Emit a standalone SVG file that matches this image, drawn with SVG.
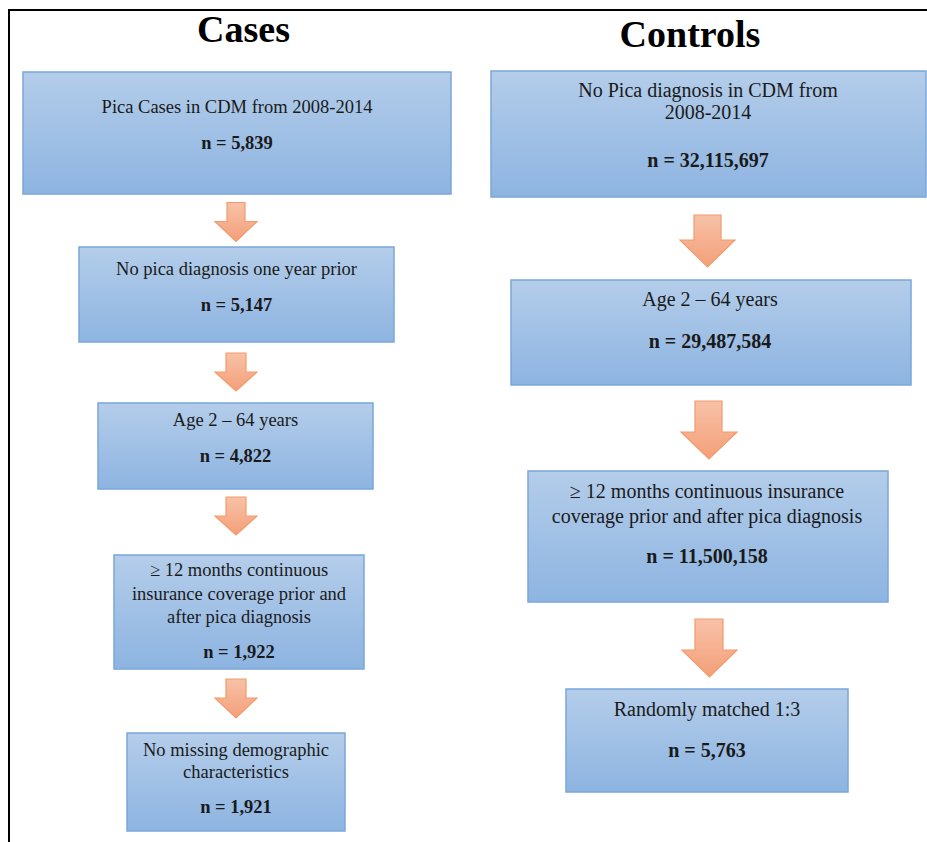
<svg xmlns="http://www.w3.org/2000/svg" width="927" height="842" viewBox="0 0 927 842">
<defs>
<linearGradient id="boxg" x1="0" y1="0" x2="0" y2="1">
<stop offset="0" stop-color="#b4cdea"/>
<stop offset="1" stop-color="#8db4e1"/>
</linearGradient>
<linearGradient id="arrg" x1="0" y1="0" x2="0" y2="1">
<stop offset="0" stop-color="#f7c2a8"/>
<stop offset="1" stop-color="#f49f78"/>
</linearGradient>
<style>
.box{fill:url(#boxg);stroke:#7ba7d9;stroke-width:1.5}
.arr{fill:url(#arrg);stroke:#f39a6b;stroke-width:1.2;stroke-linejoin:miter}
.t{font-family:"Liberation Serif","Times New Roman",serif;fill:#1a1a1a;text-anchor:middle}
.c{font-size:18.5px}
.k{font-size:20px}
.b{font-weight:bold}
.h{font-family:"Liberation Serif","Times New Roman",serif;font-weight:bold;font-size:38px;fill:#000;text-anchor:middle}
</style>
</defs>
<rect x="0" y="0" width="927" height="842" fill="#fff"/>
<g id="frame" fill="none" stroke="#000" stroke-width="2">
<path d="M9,842 V10 H927"/>
</g>
<text class="h" x="243.5" y="42">Cases</text>
<text class="h" x="690" y="47">Controls</text>

<g id="connectors">
<path class="arr" d="M227,202.5 H245 V221.5 H257 L236,241.5 L215,221.5 H227 Z"/>
<path class="arr" d="M226,353 H246 V372 H257 L236,391 L215,372 H226 Z"/>
<path class="arr" d="M226,497 H246 V516 H257 L236,535 L215,516 H226 Z"/>
<path class="arr" d="M226,679 H246 V698 H257 L236,718 L215,698 H226 Z"/>
<path class="arr" d="M694,215 H721 V240 H735 L707.5,267 L680,240 H694 Z"/>
<path class="arr" d="M695,401 H722 V432 H737 L709,459 L681,432 H695 Z"/>
<path class="arr" d="M695,619 H723 V650 H737 L709.5,677 L682,650 H695 Z"/>
</g>

<g id="case1">
<rect class="box" x="23" y="72" width="428" height="122"/>
<text class="t c" x="237" y="113">Pica Cases in CDM from 2008-2014</text>
<text class="t c b" x="237" y="149">n = 5,839</text>
</g>
<g id="case2">
<rect class="box" x="79" y="247" width="315" height="95"/>
<text class="t c" x="236.5" y="275">No pica diagnosis one year prior</text>
<text class="t c b" x="236.5" y="311">n = 5,147</text>
</g>
<g id="case3">
<rect class="box" x="98" y="403" width="275" height="86"/>
<text class="t c" x="235.5" y="426">Age 2 – 64 years</text>
<text class="t c b" x="235.5" y="462">n = 4,822</text>
</g>
<g id="case4">
<rect class="box" x="114" y="555" width="250" height="114"/>
<text class="t c" x="239" y="576">≥ 12 months continuous</text>
<text class="t c" x="239" y="600">insurance coverage prior and</text>
<text class="t c" x="239" y="623">after pica diagnosis</text>
<text class="t c b" x="239" y="658">n = 1,922</text>
</g>
<g id="case5">
<rect class="box" x="127" y="733" width="218" height="98"/>
<text class="t c" x="236" y="756">No missing demographic</text>
<text class="t c" x="236" y="778">characteristics</text>
<text class="t c b" x="236" y="813">n = 1,921</text>
</g>

<g id="ctrl1">
<rect class="box" x="491" y="71" width="435" height="126"/>
<text class="t k" x="708" y="97">No Pica diagnosis in CDM from</text>
<text class="t k" x="708" y="119">2008-2014</text>
<text class="t k b" x="708" y="167">n = 32,115,697</text>
</g>
<g id="ctrl2">
<rect class="box" x="511" y="280" width="400" height="105"/>
<text class="t k" x="710" y="306">Age 2 – 64 years</text>
<text class="t k b" x="710" y="348">n = 29,487,584</text>
</g>
<g id="ctrl3">
<rect class="box" x="528" y="471" width="360" height="131"/>
<text class="t k" x="707" y="498">≥ 12 months continuous insurance</text>
<text class="t k" x="707" y="523">coverage prior and after pica diagnosis</text>
<text class="t k b" x="707" y="563">n = 11,500,158</text>
</g>
<g id="ctrl4">
<rect class="box" x="566" y="689" width="282" height="103"/>
<text class="t k" x="707" y="716">Randomly matched 1:3</text>
<text class="t k b" x="707" y="757">n = 5,763</text>
</g>
</svg>
